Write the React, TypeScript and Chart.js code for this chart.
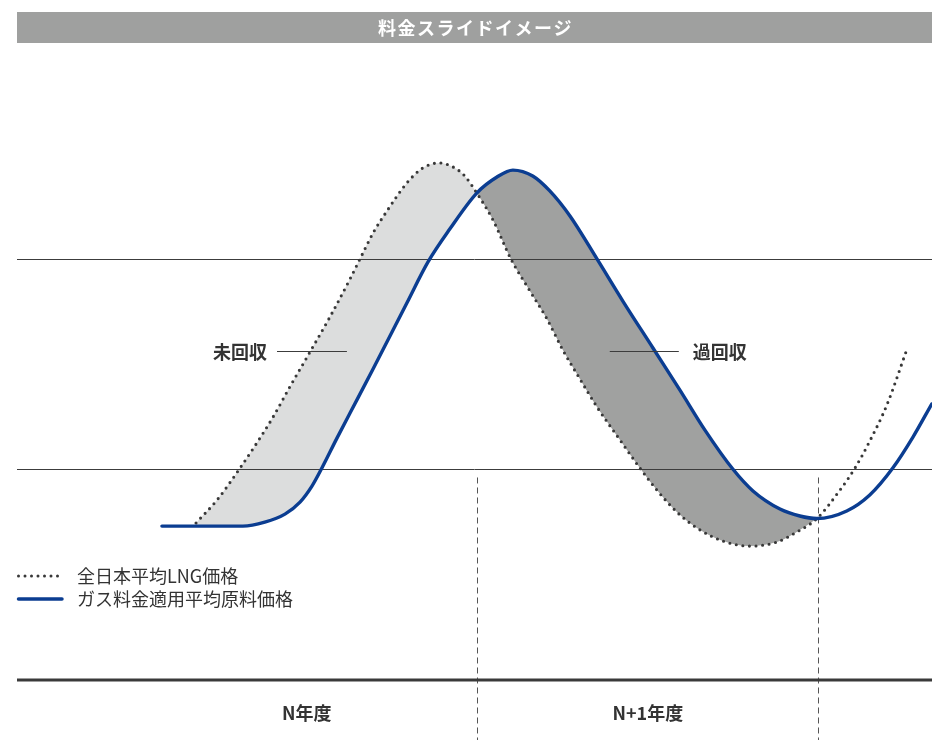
import React, { useEffect, useRef } from "react";
import { Chart, registerables } from "chart.js";

Chart.register(...registerables);

// ---- data (x: months from start of N年度, y: price index) ----
const lngX = [2.10, 2.84, 3.65, 4.24, 4.81, 5.40, 6.11, 6.81, 7.52, 7.87, 8.33, 8.82, 9.52, 10.08, 10.65, 11.21, 11.56, 11.98, 12.55, 13.18, 13.85, 14.45, 15.01, 15.61, 16.21, 17.02, 17.72, 18.32, 19.02, 19.73, 20.64, 21.59, 22.54, 23.24, 23.95, 24.76, 25.29, 25.81, 26.41, 27.12];
const lngY = [74.6, 85.5, 100.7, 112.6, 124.9, 139.2, 155.8, 172.4, 190.5, 200.0, 212.3, 222.8, 236.1, 243.2, 245.6, 243.2, 239.4, 231.3, 218.5, 200.0, 184.8, 171.5, 156.7, 143.0, 129.7, 114.0, 100.7, 90.2, 79.8, 72.2, 66.0, 63.6, 65.5, 70.3, 76.7, 90.2, 100.7, 113.5, 130.6, 157.2];

const gasX = [0.90, 2.41, 3.75, 4.52, 5.23, 5.76, 6.18, 6.53, 7.06, 7.52, 8.33, 9.52, 10.26, 11.03, 11.98, 12.69, 13.25, 13.95, 14.55, 15.26, 16.21, 17.12, 18.18, 19.13, 20.01, 20.99, 21.70, 22.65, 23.35, 23.95, 25.00, 25.81, 26.62, 27.33, 27.99];
const gasY = [73.1, 73.1, 73.1, 75.0, 78.8, 84.5, 92.1, 100.7, 114.9, 126.8, 147.7, 179.1, 198.5, 214.2, 231.3, 238.9, 242.2, 239.4, 232.3, 220.4, 200.0, 180.0, 157.7, 137.7, 118.7, 100.2, 89.8, 81.2, 77.9, 76.7, 80.3, 87.9, 100.7, 115.4, 131.1];

const thresholds = [100, 200];
const yearBounds = [12, 24];
const yearLabels = ["N年度", "N+1年度"];
const yearCenters = [6, 18];
const fillEndX = 23.95;

const titleText = "料金スライドイメージ";
const seriesNames = ["全日本平均LNG価格", "ガス料金適用平均原料価格"];
const underLabel = "未回収";
const overLabel = "過回収";

// ---- scale bounds & styles ----
const X_MIN = -4.2;
const X_MAX = 28;
const Y_MIN = -28.5;
const Y_MAX = 323;

const BLUE = "#0b3d91";
const DOT = "#383838";
const LIGHT = "#dcdddd";
const DARK = "#a0a1a0";
const TEXT = "#333333";
const JP = '"Noto Sans CJK JP", "Noto Sans", sans-serif';

const pts = (xs: number[], ys: number[]) => xs.map((x, i) => ({ x, y: ys[i] }));

const decor = {
  id: "decor",
  beforeDatasetsDraw(chart: any) {
    const ctx = chart.ctx as CanvasRenderingContext2D;
    const xs = chart.scales.x;
    const ys = chart.scales.y;
    const left = chart.chartArea.left;
    const right = chart.chartArea.right;
    ctx.save();
    ctx.strokeStyle = "#3c3c3c";
    ctx.lineWidth = 1;
    thresholds.forEach((t) => {
      const y = Math.round(ys.getPixelForValue(t)) + 0.5;
      ctx.beginPath();
      ctx.moveTo(left, y);
      ctx.lineTo(right, y);
      ctx.stroke();
    });
    const yTop = ys.getPixelForValue(thresholds[0]) + 8;
    ctx.setLineDash([6, 4]);
    ctx.strokeStyle = "#555555";
    yearBounds.forEach((b) => {
      const x = Math.round(xs.getPixelForValue(b)) + 0.5;
      ctx.beginPath();
      ctx.moveTo(x, yTop);
      ctx.lineTo(x, chart.height);
      ctx.stroke();
    });
    ctx.setLineDash([]);
    const ya = ys.getPixelForValue(0);
    ctx.strokeStyle = "#3a3a3a";
    ctx.lineWidth = 3;
    ctx.beginPath();
    ctx.moveTo(left, ya);
    ctx.lineTo(right, ya);
    ctx.stroke();
    ctx.restore();
  },
  afterDatasetsDraw(chart: any) {
    const ctx = chart.ctx as CanvasRenderingContext2D;
    const xs = chart.scales.x;
    const ys = chart.scales.y;
    const left = chart.chartArea.left;
    const right = chart.chartArea.right;
    ctx.save();
    // header
    ctx.fillStyle = "#9fa09f";
    ctx.fillRect(left, 12, right - left, 31);
    ctx.fillStyle = "#ffffff";
    ctx.font = `bold 18px ${JP}`;
    ctx.textAlign = "center";
    ctx.textBaseline = "middle";
    (ctx as any).letterSpacing = "1.5px";
    ctx.fillText(titleText, (left + right) / 2 + 1, 28);
    (ctx as any).letterSpacing = "0px";

    // year labels
    ctx.fillStyle = TEXT;
    ctx.font = `bold 18px ${JP}`;
    yearLabels.forEach((l, i) => {
      ctx.fillText(l, xs.getPixelForValue(yearCenters[i]), ys.getPixelForValue(0) + 33);
    });

    // annotation labels
    const ly = Math.round(ys.getPixelForValue(156.3)) + 0.5;
    ctx.strokeStyle = "#3c3c3c";
    ctx.lineWidth = 1.2;
    ctx.beginPath();
    ctx.moveTo(xs.getPixelForValue(4.95), ly);
    ctx.lineTo(xs.getPixelForValue(7.41), ly);
    ctx.moveTo(xs.getPixelForValue(16.66), ly);
    ctx.lineTo(xs.getPixelForValue(19.09), ly);
    ctx.stroke();
    ctx.font = `bold 18px ${JP}`;
    ctx.textAlign = "right";
    ctx.fillText(underLabel, xs.getPixelForValue(4.95) - 10, ly + 1);
    ctx.textAlign = "left";
    ctx.fillText(overLabel, xs.getPixelForValue(19.09) + 14, ly + 1);

    // legend
    const lx0 = left;
    const lx1 = left + 46;
    const l1 = 576;
    const l2 = 599;
    ctx.strokeStyle = DOT;
    ctx.lineWidth = 3;
    ctx.lineCap = "round";
    ctx.setLineDash([0, 6.5]);
    ctx.beginPath();
    ctx.moveTo(lx0 + 1.5, l1);
    ctx.lineTo(lx1, l1);
    ctx.stroke();
    ctx.setLineDash([]);
    ctx.strokeStyle = BLUE;
    ctx.lineWidth = 3.5;
    ctx.beginPath();
    ctx.moveTo(lx0 + 1.5, l2);
    ctx.lineTo(lx1 - 1, l2);
    ctx.stroke();
    ctx.fillStyle = TEXT;
    ctx.font = `18px ${JP}`;
    ctx.textAlign = "left";
    ctx.fillText(seriesNames[0], 77, l1);
    ctx.fillText(seriesNames[1], 77, l2);
    ctx.restore();
  },
};

export default function App() {
  const ref = useRef<HTMLCanvasElement>(null);
  useEffect(() => {
    const canvas = ref.current;
    if (!canvas) return;
    const lngPts = pts(lngX, lngY);
    const gasPts = pts(gasX, gasY);
    const fillPts = lngPts.filter((p) => p.x <= fillEndX);
    const chart = new Chart(canvas, {
      type: "line",
      data: {
        datasets: [
          {
            label: "fill",
            data: fillPts,
            borderColor: "rgba(0,0,0,0)",
            borderWidth: 0,
            pointRadius: 0,
            cubicInterpolationMode: "monotone",
            fill: { target: 1, above: LIGHT, below: DARK },
          },
          {
            label: seriesNames[1],
            data: gasPts,
            borderColor: BLUE,
            borderWidth: 3.4,
            borderCapStyle: "round",
            borderJoinStyle: "round",
            pointRadius: 0,
            cubicInterpolationMode: "monotone",
            fill: false,
          },
          {
            label: seriesNames[0],
            data: lngPts,
            borderColor: DOT,
            borderWidth: 3.1,
            borderCapStyle: "round",
            borderDash: [0, 6.6],
            pointRadius: 0,
            cubicInterpolationMode: "monotone",
            fill: false,
          },
        ],
      } as any,
      options: {
        responsive: false,
        animation: false,
        layout: { padding: { left: 17, right: 0, top: 0, bottom: 0 } },
        scales: {
          x: { type: "linear", min: X_MIN, max: X_MAX, display: false },
          y: { type: "linear", min: Y_MIN, max: Y_MAX, display: false },
        },
        plugins: {
          legend: { display: false },
          tooltip: { enabled: false },
          title: { display: false },
          filler: { drawTime: "beforeDatasetsDraw", propagate: false },
        } as any,
      },
      plugins: [decor],
    });
    return () => chart.destroy();
  }, []);
  return (
    <div style={{ position: "absolute", left: 0, top: 0, width: 932, height: 740, background: "#ffffff" }}>
      <canvas ref={ref} width={932} height={740} style={{ width: 932, height: 740, display: "block" }} />
    </div>
  );
}
